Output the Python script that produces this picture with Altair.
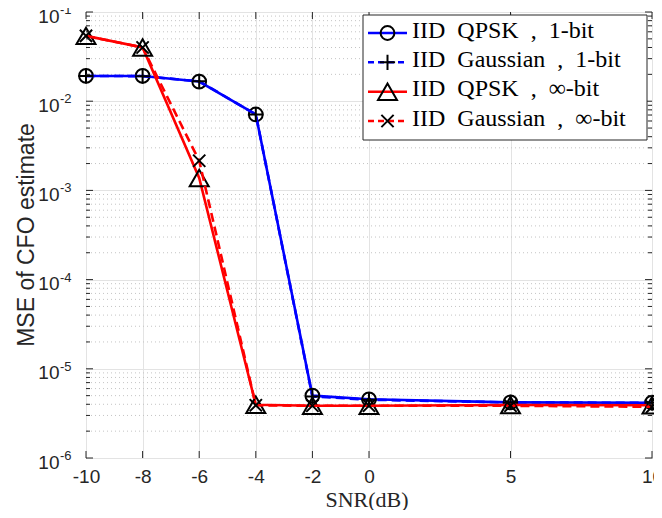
import altair as alt
import pandas as pd

# ---------------- data ----------------
snr_db = [-10, -8, -6, -4, -2, 0, 5, 10]
mse_qpsk_1bit = [0.0192, 0.0192, 0.0166, 0.0071, 5.0e-6, 4.55e-6, 4.2e-6, 4.17e-6]
mse_gauss_1bit = [0.0192, 0.0191, 0.0167, 0.0071, 4.9e-6, 4.5e-6, 4.2e-6, 4.15e-6]
mse_qpsk_inf = [0.054, 0.040, 0.00138, 3.95e-6, 3.85e-6, 3.85e-6, 3.93e-6, 3.9e-6]
mse_gauss_inf = [0.054, 0.040, 0.00215, 3.9e-6, 3.85e-6, 3.85e-6, 3.85e-6, 3.75e-6]
series_labels = ["IID QPSK , 1-bit", "IID Gaussian , 1-bit",
                 "IID QPSK , \u221e-bit", "IID Gaussian , \u221e-bit"]
x_tick_values = [-10, -8, -6, -4, -2, 0, 5, 10]
y_exponents = [-6, -5, -4, -3, -2, -1]
minor_mult = [2, 3, 4, 5, 6, 7, 8, 9]
x_title = "SNR(dB)"
y_title = "MSE of CFO estimate"

# ---------------- styling ----------------
W, H = 566, 446
colors = ["#0000ff", "#0000ff", "#ff0000", "#ff0000"]
dashes = [None, [9, 5], None, [9, 5]]
shapes = ["circle", "M-1,0L1,0M0,-1L0,1", "triangle-up", "M-1,-1L1,1M1,-1L-1,1"]
sizes = [190, 230, 360, 150]
AX = "#262626"
SANS = "Liberation Sans"
SERIF = "Liberation Serif"

xscale = alt.Scale(domain=[-10, 10], nice=False, zero=False)
yscale = alt.Scale(type="log", domain=[1e-6, 1e-1], nice=False)

x_axis = alt.Axis(values=x_tick_values, grid=True, gridColor="#e3e3e3", gridWidth=1,
                  ticks=False, domain=False, labelFont=SANS, labelFontSize=19,
                  labelColor=AX, labelPadding=9, labelFlush=False,
                  labelExpr="'' + datum.value", title=None)
y_axis = alt.Axis(values=[10.0 ** e for e in y_exponents], grid=True,
                  gridColor="#e3e3e3", gridWidth=1, ticks=False, domain=False,
                  labels=False, title=None)


def X(field):
    return alt.X(field, scale=xscale, axis=x_axis)


def Y(field):
    return alt.Y(field, scale=yscale, axis=y_axis)


series_values = [mse_qpsk_1bit, mse_gauss_1bit, mse_qpsk_inf, mse_gauss_inf]
layers = []

# minor grid (dotted)
minor_vals = [m * 10.0 ** e for e in y_exponents[:-1] for m in minor_mult]
minor_df = pd.DataFrame({"v": minor_vals})
layers.append(
    alt.Chart(minor_df).mark_rule(color="#c4c4c4", strokeWidth=1, strokeDash=[1, 3])
    .encode(y=Y("v:Q"))
)

# series: line then markers, in drawing order
for vals, col, dash, shp, sz in zip(series_values, colors, dashes, shapes, sizes):
    df = pd.DataFrame({"x": snr_db, "y": vals})
    line_kwargs = dict(color=col, strokeWidth=2.6)
    if dash:
        line_kwargs["strokeDash"] = dash
    layers.append(alt.Chart(df).mark_line(**line_kwargs).encode(x=X("x:Q"), y=Y("y:Q")))
    layers.append(
        alt.Chart(df).mark_point(shape=shp, size=sz, filled=False, color="black",
                                 strokeWidth=2, opacity=1)
        .encode(x=X("x:Q"), y=Y("y:Q"))
    )

# tick marks (inside, on all four sides)
xt_df = pd.DataFrame({"t": x_tick_values})
for y0, y1 in [(H, H - 7), (0, 7)]:
    layers.append(
        alt.Chart(xt_df).mark_rule(color=AX, strokeWidth=1).encode(
            x=X("t:Q"), y=alt.value(y0), y2=alt.value(y1))
    )
major_df = pd.DataFrame({"v": [10.0 ** e for e in y_exponents]})
for x0, x1 in [(0, 7), (W, W - 7)]:
    layers.append(
        alt.Chart(major_df).mark_rule(color=AX, strokeWidth=1).encode(
            y=Y("v:Q"), x=alt.value(x0), x2=alt.value(x1))
    )
for x0, x1 in [(0, 4), (W, W - 4)]:
    layers.append(
        alt.Chart(minor_df).mark_rule(color=AX, strokeWidth=1).encode(
            y=Y("v:Q"), x=alt.value(x0), x2=alt.value(x1))
    )

# y tick labels 10^e
ylab_df = pd.DataFrame({"v": [10.0 ** e for e in y_exponents],
                        "base": ["10"] * len(y_exponents),
                        "exp": [str(e) for e in y_exponents]})
layers.append(
    alt.Chart(ylab_df).mark_text(align="right", baseline="middle", font=SANS,
                                 fontSize=19, color=AX, dy=4.5).encode(
        y=Y("v:Q"), x=alt.value(-26.5), text="base:N")
)
layers.append(
    alt.Chart(ylab_df).mark_text(align="left", baseline="middle", font=SANS,
                                 fontSize=13, color=AX, dy=-2).encode(
        y=Y("v:Q"), x=alt.value(-26), text="exp:N")
)

one = pd.DataFrame({"a": [0]})
# axis titles
layers.append(
    alt.Chart(one).mark_text(text=y_title, angle=270, align="center", baseline="middle",
                             font=SANS, fontSize=23, color=AX).encode(
        x=alt.value(-59), y=alt.value(H / 2))
)
layers.append(
    alt.Chart(one).mark_text(text=x_title, align="center", baseline="alphabetic",
                             font=SERIF, fontSize=22, color=AX).encode(
        x=alt.value(281), y=alt.value(H + 49))
)

# legend box
LX0, LX1, LY0, LY1 = 277, 561, 3, 128
layers.append(
    alt.Chart(one).mark_rect(fill="white", stroke=AX, strokeWidth=1).encode(
        x=alt.value(LX0), x2=alt.value(LX1), y=alt.value(LY0), y2=alt.value(LY1))
)
row_y = [21, 50.3, 79.7, 109]
for lab, col, dash, shp, sz, ry in zip(series_labels, colors, dashes, shapes, sizes, row_y):
    rk = dict(color=col, strokeWidth=2.6)
    if dash:
        rk["strokeDash"] = [6, 4]
    layers.append(
        alt.Chart(one).mark_rule(**rk).encode(
            x=alt.value(282), x2=alt.value(321), y=alt.value(ry))
    )
    layers.append(
        alt.Chart(one).mark_point(shape=shp, size=sz, filled=False, color="black",
                                  strokeWidth=2, opacity=1).encode(
            x=alt.value(301.5), y=alt.value(ry))
    )
    shown = lab.replace(" ", " \u00a0")
    layers.append(
        alt.Chart(one).mark_text(text=shown, align="left", baseline="alphabetic",
                                 font=SERIF, fontSize=24, color="black").encode(
            x=alt.value(326), y=alt.value(ry + 4.5))
    )

chart = alt.layer(*layers).properties(
    width=W, height=H,
    autosize=alt.AutoSizeParams(type="none"),
    padding={"left": 78, "top": 4, "right": 2, "bottom": 52},
).configure_view(stroke=AX, strokeWidth=1)

chart.save("out.html", embed_options={"renderer": "svg", "actions": False})
